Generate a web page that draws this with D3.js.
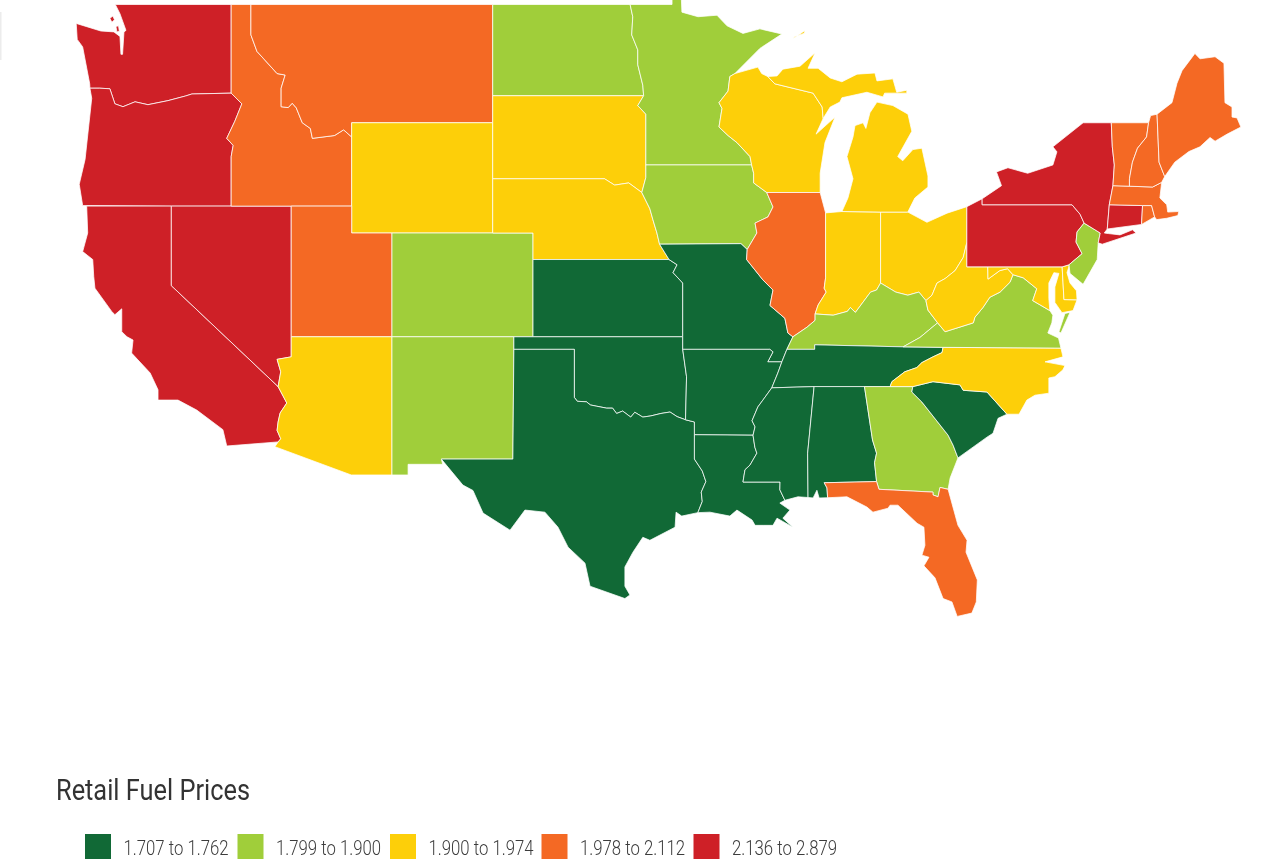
<!DOCTYPE html>
<html><head><meta charset="utf-8">
<script src="https://cdn.jsdelivr.net/npm/d3@7/dist/d3.min.js"></script>
<style>html,body{margin:0;padding:0;background:#fff;overflow:hidden}svg{display:block;filter:blur(0.45px)}</style>
</head><body><svg id="c" width="1285" height="863"></svg>
<script>
// ---------- data ----------
const legendTitle = "Retail Fuel Prices";
const binLabels = ["1.707 to 1.762","1.799 to 1.900","1.900 to 1.974","1.978 to 2.112","2.136 to 2.879"];
const binColors = ["#116936","#a0ce3a","#fdcf09","#f46924","#ce2027"];
const bin1 = ["KS","MO","OK","TX","AR","LA","MS","AL","TN","SC"];
const bin2 = ["ND","MN","IA","CO","NM","KY","VA","GA","NJ"];
const bin3 = ["WY","SD","NE","AZ","WI","MI","IN","OH","WV","MD","DE","NC"];
const bin4 = ["MT","ID","UT","IL","FL","ME","NH","VT","MA","RI"];
const bin5 = ["WA","OR","CA","NV","NY","PA","CT"];
const binStates = [bin1,bin2,bin3,bin4,bin5];

// ---------- shared state borders, [lon, lat] ----------
const rev = a => a.slice().reverse();
const waOr = [[-117.03,46.03],[-118.98,46],[-119.3,45.93],[-120.17,45.77],[-121.16,45.63],[-121.8,45.73],[-122.4,45.56],[-122.8,45.66],[-123.05,46.18],[-123.55,46.2],[-124.04,46.2]];
const orId = [[-117.03,46.03],[-116.5,45.66],[-116.85,45.05],[-117.25,44.45],[-116.93,44.2],[-117.03,43.8],[-117.03,42]];
const idMt = [[-116.05,49],[-116.05,48],[-115.75,47.45],[-114.75,46.7],[-114.35,46.65],[-114.55,46.2],[-114.55,45.56],[-114.2,45.53],[-114,45.68],[-113.8,45.52],[-113.5,45],[-113.1,44.8],[-113,44.45],[-111.9,44.55],[-111.45,44.75],[-111.05,44.5]];
const caAz = [[-114.7,32.72],[-114.57,32.85],[-114.75,33.2],[-114.7,33.55],[-114.6,33.92],[-114.27,34.33],[-114.7,35]];
const nvAz = [[-114.7,35],[-114.57,35.6],[-114.75,36.1],[-114.05,36.2],[-114.05,37]];
const ndMn = [[-97.23,49],[-97.1,48.6],[-97.15,48],[-96.85,47.5],[-96.85,47],[-96.6,46.3],[-96.56,45.94]];
const sdMn = [[-96.56,45.94],[-96.85,45.6],[-96.45,45.3],[-96.45,43.5]];
const sdIa = [[-96.45,43.5],[-96.45,43.05],[-96.65,42.5]];
const sdNe = [[-96.65,42.5],[-97.3,42.85],[-98,42.77],[-98.5,43],[-104.05,43]];
const neIa = [[-96.65,42.5],[-96.25,41.9],[-96.1,41.5],[-95.9,41],[-95.77,40.58]];
const neMo = [[-95.77,40.58],[-95.3,40]];
const moKs = [[-95.3,40],[-94.9,39.8],[-95.1,39.5],[-94.62,39.1],[-94.62,37]];
const moIa = [[-91.42,40.38],[-91.73,40.6],[-95.77,40.58]];
const moIl = [[-91.42,40.38],[-91.45,40],[-90.64,39.22],[-90.14,38.83],[-90.29,38.23],[-89.55,37.73],[-89.4,37.15],[-89.15,37]];
const mnWi = [[-92.03,46.7],[-92.28,46.6],[-92.37,46.1],[-92.82,45.7],[-92.67,45.5],[-92.82,44.85],[-92.37,44.55],[-91.93,44.3],[-91.28,43.8],[-91.2,43.5]];
const iaWi = [[-91.2,43.5],[-91.1,43.2],[-91.1,42.85],[-90.45,42.5]];
const iaIl = [[-90.45,42.5],[-90.14,41.97],[-90.39,41.6],[-91.03,41.37],[-90.94,41],[-91.42,40.38]];
const okAr = [[-94.62,36.5],[-94.43,35.4],[-94.48,33.64]];
const redRiver = [[-100,34.56],[-99.85,34.4],[-99.4,34.38],[-99.2,34.25],[-98.9,34.2],[-98.4,34.12],[-98.1,34.12],[-97.9,33.9],[-97.6,34],[-97.2,33.75],[-97,33.95],[-96.6,33.75],[-96.2,33.8],[-95.7,33.9],[-95.25,33.96],[-94.9,33.77],[-94.48,33.64]];
const txAr = [[-94.48,33.64],[-94.04,33.55],[-94.04,33.02]];
const txLa = [[-94.04,33.02],[-94.04,32],[-93.65,31.5],[-93.47,31.05],[-93.7,30.6],[-93.65,30.2],[-93.87,29.72]];
const arLa = [[-94.04,33.02],[-91.13,33]];
const arRiver = [[-89.7,36],[-89.9,35.55],[-90.2,34.95],[-90.64,34.45],[-90.89,34.17],[-91.18,33.6],[-91.03,33.35],[-91.13,33]];
const msLa = [[-91.13,33],[-91.04,32.5],[-90.94,32.25],[-91.28,31.75],[-91.53,31.55],[-91.63,31.03],[-89.79,31.03],[-89.8,30.7],[-89.55,30.25]];
const tnTop = [[-89.45,36.5],[-88.07,36.5],[-88.07,36.68],[-83.68,36.6]];
const tnNc = [[-81.7,36.58],[-81.75,36.37],[-82.2,36.2],[-82.75,35.97],[-83,35.77],[-83.6,35.6],[-84.24,35.2],[-84.33,35]];
const scNc = [[-83.2,35],[-82.2,35.2],[-80.86,35.07],[-80.7,34.85],[-79.52,34.78],[-78.53,33.87]];
const gaSc = [[-83.2,35],[-83.25,34.78],[-82.75,34.37],[-81.45,33],[-81.2,32.58],[-80.96,32.05]];
const gaFl = [[-81.45,30.72],[-81.85,30.8],[-81.95,30.4],[-82.2,30.48],[-82.2,30.6],[-84.88,30.72],[-85,31.05]];
const alGa = [[-85.6,35],[-85.2,32.8],[-85,32.25],[-85.1,31.85],[-85,31.05]];
const alMs = [[-88.1,35],[-88.42,32.25],[-88.4,30.37]];
const ilKy = [[-89.15,37],[-88.45,37.38],[-88.05,37.65],[-88.05,37.9]];
const inKy = [[-88.05,37.9],[-87.15,37.85],[-86.45,38],[-86.3,38.15],[-86.05,37.96],[-85.3,38.75],[-85,38.83],[-84.8,39.1]];
const ohKy = [[-84.8,39.1],[-84.05,38.75],[-83.45,38.63],[-82.9,38.75],[-82.55,38.42]];
const wvKy = [[-82.55,38.42],[-82.45,38.05],[-81.97,37.55]];
const kyVa = [[-81.97,37.55],[-82.85,36.97],[-83.68,36.6]];
const wvOh = [[-80.52,40.64],[-80.7,40.08],[-81.1,39.58],[-81.6,39.27],[-82,39.1],[-82.25,38.63],[-82.55,38.42]];
const wvMd = [[-79.48,39.72],[-79.47,39.25],[-78.88,39.58],[-78.5,39.65],[-78.23,39.42]];
const vaWv = [[-78.23,39.42],[-78.38,39.13],[-78.87,38.75],[-79.38,38.55],[-79.72,38.15],[-80.12,37.77],[-80.2,37.55],[-81.6,37.2],[-81.97,37.55]];
const vaMd = [[-78.23,39.42],[-77.72,39.3],[-77.05,38.88],[-77.25,38.42],[-76.4,38.03]];
const paNj = [[-74.7,41.37],[-75.05,41.04],[-75.1,40.66],[-74.8,40.22],[-75.45,39.8]];
const vtNh = [[-71.5,45],[-71.6,44.5],[-72.05,44.1],[-72.3,43.6],[-72.45,43],[-72.45,42.73]];
const nhMa = [[-72.45,42.73],[-71.3,42.7],[-70.85,42.87]];
const meNh = [[-71.08,45.3],[-70.98,43.6],[-70.7,43.08],[-70.85,42.87]];
const nyVt = [[-73.35,45],[-73.3,44.15],[-73.2,43.5],[-73.27,42.75]];
const ctMa = [[-73.45,42.05],[-71.8,42.02]];
const coastCa = [[-124.2,42],[-124.15,41],[-124.4,40.3],[-123.9,40],[-123.85,39.35],[-123.79,38.9],[-122.96,38],[-122.8,37.87],[-122.46,38.1],[-122.46,37.2],[-122.2,37],[-121.9,36.87],[-121.97,36.35],[-121.05,35.55],[-120.66,34.87],[-120.66,34.45],[-119.67,34.45],[-118.74,34.04],[-117.44,33.23],[-117.25,32.55]];
const coastTx = [[-93.87,29.72],[-94.67,29.57],[-94.95,29.74],[-95,29.09],[-96.25,28.52],[-96.6,28.65],[-97.09,28],[-97.49,27.35],[-97.49,26.5],[-97.24,26.11],[-97.49,25.95],[-99.22,26.5],[-99.47,27.52],[-100.31,28.22],[-100.81,29.09],[-101.46,29.74],[-102.45,29.83],[-103.19,28.96],[-104.53,29.7],[-105.03,30.67],[-105.53,30.9],[-106.6,32]];
const coastLa = [[-93.87,29.72],[-93.27,29.74],[-92.28,29.57],[-91.93,29.83],[-91.18,29.4],[-91.03,29.17],[-90.63,29.17],[-90.14,29.17],[-89.94,29.48],[-89.15,29.09],[-89.65,29.48],[-89.3,29.83],[-89.8,30.13],[-89.55,30.25]];
const coastFl = [[-81.45,30.72],[-80.96,29.17],[-80.51,28.52],[-80.56,28],[-80,26.78],[-80.05,25.8],[-80.27,25.3],[-81,25.15],[-81.26,25.8],[-81.7,25.95],[-82.1,26.87],[-82.65,27.4],[-82.4,27.78],[-82.75,27.87],[-82.6,28.3],[-82.65,29.09],[-82.99,29.26],[-83.94,30.04],[-84.33,30.04],[-84.43,29.91],[-85.18,29.74],[-85.48,29.96],[-86.47,30.4],[-87.43,30.36],[-87.46,30.78],[-87.6,31]];
const coastMe = [[-71.08,45.3],[-70.34,45.7],[-70.09,46.37],[-69.84,46.8],[-69.2,47.38],[-68.95,47.2],[-68.2,47.27],[-67.76,47.05],[-67.71,45.7],[-67.36,45.55],[-67.36,45.2],[-67.11,45.17],[-66.92,44.85],[-67.6,44.6],[-68.2,44.35],[-68.45,44.48],[-68.95,44.15],[-69.5,43.98],[-70.2,43.6],[-70.7,43.08]];
const lakeWi = [[-90.4,46.6],[-90.05,46.35],[-88.15,46.03],[-87.7,45.55],[-87.65,45.15]];
const coastUp = [[-90.4,46.6],[-89.94,46.62],[-89.65,46.85],[-88.8,46.95],[-88.05,47.4],[-88.4,46.88],[-87.9,46.88],[-87.3,46.55],[-86.72,46.42],[-85.97,46.68],[-85.08,46.72],[-84.98,46.45],[-84.19,46.52],[-84,46.06],[-83.5,46.13],[-83.5,46.03],[-84.6,46.03],[-84.68,45.9],[-85.48,46.06],[-86.72,45.87],[-86.82,45.72],[-87.3,45.55],[-87.65,45.15]];

const shapes = {
 WA:[[[-122.78,49],[-117.03,49],...waOr,[-124.05,46.35],[-124.4,47.6],[-124.67,47.85],[-124.72,48.38],[-123.5,48.13],[-122.85,48.1],[-122.55,47.95],[-122.5,47.35],[-122.42,47.35],[-122.35,48.1],[-122.25,48.15],[-122.55,48.7]],
     [[-123.05,48.55],[-122.9,48.62],[-122.82,48.5],[-122.95,48.42]],
     [[-122.75,48.28],[-122.62,48.3],[-122.58,48.12],[-122.7,48.1]]],
 OR:[[...waOr,[-123.95,45.85],[-124.28,43.7],[-124.57,42.8],[-124.4,42.02],[-120,42],...rev(orId)]],
 CA:[[...coastCa,...caAz,[-120,39],[-120,42]]],
 NV:[[[-120,42],[-114.05,42],...rev(nvAz),[-120,39]]],
 ID:[[[-117.03,49],...idMt,[-111.05,42],...rev(orId)]],
 MT:[[...idMt,[-111.05,45],[-104.05,45],[-104.05,49]]],
 WY:[[[-111.05,45],[-104.05,45],[-104.05,41],[-111.05,41]]],
 UT:[[[-114.05,42],[-111.05,42],[-111.05,41],[-109.05,41],[-109.05,37],[-114.05,37]]],
 CO:[[[-109.05,41],[-102.05,41],[-102.05,37],[-109.05,37]]],
 AZ:[[...nvAz,[-109.05,37],[-109.05,31.33],[-111.07,31.33],[-114.86,32.52],...caAz.slice(0,-1)]],
 NM:[[[-109.05,37],[-103,37],[-103,36.5],[-103.05,32],[-106.6,32],[-106.53,31.78],[-108.25,31.78],[-108.25,31.33],[-109.05,31.33]]],
 ND:[[[-104.05,49],...ndMn,[-104.05,45.94]]],
 SD:[[[-104.05,45.94],...sdMn,...sdIa,...sdNe]],
 NE:[[...rev(sdNe),...neIa,...neMo,[-102.05,40],[-102.05,41],[-104.05,41]]],
 KS:[[[-102.05,40],...moKs,[-102.05,37]]],
 OK:[[[-103,37],[-94.62,37],...okAr,...rev(redRiver),[-100,36.5],[-103,36.5]]],
 TX:[[[-103,36.5],[-100,36.5],...redRiver,...txAr,...txLa,...coastTx,[-103.05,32]]],
 MN:[[...ndMn,...sdMn,[-91.2,43.5],...rev(mnWi),[-90.79,47.55],[-89.7,48.03],[-90.79,48.2],[-91.63,48.05],[-92.42,48.3],[-92.92,48.65],[-93.86,48.6],[-94.66,48.75],[-94.7,49.38],[-95.15,49.38],[-95.15,49]]],
 IA:[[...sdIa,...neIa,...rev(moIa),...rev(iaIl),...rev(iaWi)]],
 MO:[[...neMo,...moKs,[-94.62,36.5],[-90.3,36.5],[-90.14,36.4],[-90.4,36],[-89.7,36],[-89.45,36.5],...rev(moIl),[-91.73,40.6]]],
 AR:[[[-94.62,36.5],[-90.3,36.5],[-90.14,36.4],[-90.4,36],...arRiver,...rev(arLa),[-94.04,33.55],[-94.48,33.64],[-94.43,35.4]]],
 LA:[[...arLa,...msLa,...rev(coastLa),...rev(txLa).slice(0,-1)]],
 WI:[[...mnWi,...iaWi,[-87.8,42.5],[-87.8,43.2],[-87.56,44.3],[-87.06,45.2],[-88,44.6],...rev(lakeWi),[-90.7,46.7],[-90.89,46.92]]],
 IL:[[[-90.45,42.5],[-87.8,42.5],[-87.53,41.75],[-87.53,39.3],[-87.6,38.9],[-87.5,38.75],[-87.9,38.25],...rev(ilKy),...rev(moIl),...rev(iaIl).slice(1)]],
 IN:[[[-87.53,41.75],[-86.72,41.8],[-84.8,41.78],...rev(inKy),[-87.9,38.25],[-87.5,38.75],[-87.6,38.9],[-87.53,39.3]]],
 OH:[[[-84.8,41.78],[-83.45,41.78],[-82.5,41.4],[-81.5,41.74],[-80.52,41.98],...wvOh,...rev(ohKy)]],
 KY:[[...ilKy,...inKy,...ohKy,...wvKy,...kyVa,[-88.07,36.68],[-88.07,36.5],[-89.45,36.5]]],
 TN:[[...tnTop,...tnNc,[-85.6,35],[-88.1,35],[-90.2,34.95],[-89.9,35.55],[-89.7,36]]],
 MS:[[[-90.2,34.95],...alMs,[-88.9,30.4],...rev(msLa),...rev(arRiver).slice(1,-2)]],
 AL:[[...alGa,[-87.6,31],[-87.46,30.78],[-87.43,30.36],[-87.85,30.35],[-87.96,30.68],[-88.15,30.35],[-88.4,30.37],...rev(alMs)]],
 GA:[[[-85.6,35],[-84.33,35],...gaSc,[-81.35,31.2],...gaFl,...rev(alGa)]],
 FL:[[...coastFl,[-85,31.05],...rev(gaFl)]],
 SC:[[...scNc,[-78.97,33.7],[-79.22,33.08],[-79.52,32.92],...rev(gaSc)]],
 NC:[[[-81.7,36.58],[-75.85,36.55],[-75.75,36.2],[-76.64,36],[-75.65,35.85],[-75.75,35.68],[-76.15,35.4],[-76.45,35.35],[-76.45,34.73],[-77.14,34.65],[-77.54,34.45],[-77.93,33.87],...rev(scNc),...rev(tnNc)]],
 VA:[[...vaMd,[-76.25,37.85],[-76.3,37.55],[-76.5,37.15],[-75.97,36.95],[-75.85,36.55],[-81.7,36.58],[-83.68,36.6],...rev(kyVa),...rev(vaWv)],
     [[-75.65,37.92],[-75.4,37.96],[-75.85,37.15],[-75.95,37.2]]],
 WV:[[[-80.52,40.64],[-80.52,39.72],...wvMd,...vaWv,...rev(wvKy),...rev(wvOh)]],
 MD:[[[-79.48,39.72],[-75.79,39.72],[-75.7,38.46],[-75.05,38.45],[-75.25,38.03],[-75.8,37.95],[-76.15,38.35],[-76.15,38.95],[-75.95,39.47],[-76.2,39.5],[-76.45,39.1],[-76.45,38.5],...rev(vaMd),...rev(wvMd)]],
 DE:[[[-75.79,39.72],[-75.42,39.8],[-75.55,39.5],[-75.4,39.1],[-75.08,38.8],[-75.05,38.45],[-75.7,38.46]]],
 PA:[[[-80.52,41.98],[-79.76,42.27],[-79.76,42.05],[-75.3,42.05],[-74.9,41.7],[-74.7,41.37],...paNj.slice(1),[-75.79,39.72],[-80.52,39.72]]],
 NJ:[[[-74.7,41.37],[-73.9,41],[-74,40.63],[-74.05,40],[-74.75,39.05],[-75.4,39.47],...rev(paNj).slice(0,-1)]],
 NY:[[[-79.76,42.05],[-79.76,42.27],[-78.8,42.75],[-79.05,43.25],[-78.48,43.4],[-77.5,43.2],[-76.25,43.5],[-76.05,43.97],[-76.25,44.15],[-74.75,45],...nyVt,[-73.45,42.05],[-73.55,41.15],[-73.7,41],[-73.5,40.98],[-72.92,40.93],[-72.3,41.12],[-72.12,41],[-73.8,40.58],[-74,40.63],[-73.9,41],[-74.7,41.37],[-74.9,41.7],[-75.3,42.05]]],
 CT:[[...ctMa,[-71.85,41.32],[-73.55,41.15]]],
 RI:[[[-71.8,42.02],[-71.35,42.02],[-71.2,41.6],[-71.85,41.32]]],
 MA:[[[-73.27,42.75],...nhMa,[-70.94,42.3],[-70.6,42.05],[-70.55,41.78],[-70,41.8],[-70.05,41.65],[-70.6,41.55],[-71.1,41.5],[-71.2,41.6],[-71.35,42.02],[-71.8,42.02],[-73.45,42.05]]],
 VT:[[[-73.35,45],...vtNh,[-73.27,42.75],...rev(nyVt).slice(1,-1)]],
 NH:[[...vtNh,...nhMa.slice(1),...rev(meNh).slice(1),[-71.4,45.25]]],
 ME:[[...coastMe,...rev(meNh).slice(2)]],
 MI:[[...coastUp,...rev(lakeWi).slice(1)],
     [[-84.98,45.72],[-84.19,45.6],[-83.44,45.3],[-83.25,44.7],[-83.95,43.8],[-83.7,43.65],[-83.2,44.05],[-82.75,44.1],[-82.45,43.1],[-82.45,42.7],[-83.1,42.3],[-83.45,41.78],[-84.8,41.78],[-86.72,41.8],[-86.42,42.3],[-86.17,43],[-86.47,43.8],[-86.17,44.5],[-86.07,44.9],[-85.67,45],[-85.53,44.8],[-85.33,45.35]],
     [[-89.15,47.87],[-88.55,48.15],[-88.6,48.05],[-89.05,47.95]]]
};

// ---------- drawing ----------
const stateBin = new Map(binStates.flatMap((list,i)=>list.map(s=>[s,binLabels[i]])));
const color = d3.scaleOrdinal().domain(binLabels).range(binColors);
const features = Object.keys(shapes).map(id=>({type:"Feature",id,geometry:{type:"MultiPolygon",
  coordinates:shapes[id].map(r=>[[...r,r[0]]])}}));

const mercator = d3.geoMercator().scale(1154.5).translate([2589.3,1140.3]);
const planar = d3.geoTransform({point(lon,lat){const p=mercator([lon,lat]);this.stream.point(p[0],p[1]);}});
const path = d3.geoPath(planar);

const svg = d3.select("#c");
svg.append("line").attr("x1",0).attr("x2",0).attr("y1",12).attr("y2",60).attr("stroke","#ececec").attr("stroke-width",3);
svg.append("g").selectAll("path").data(features).join("path")
  .attr("d",path)
  .attr("fill",d=>color(stateBin.get(d.id)))
  .attr("stroke","#fff").attr("stroke-opacity",.75).attr("stroke-width",1).attr("stroke-linejoin","round");

const fontStack = "Roboto,'Liberation Sans',sans-serif";
svg.append("text").text(legendTitle).attr("x",56).attr("y",800)
  .attr("font-family",fontStack).attr("font-weight",400)
  .attr("font-size",30).attr("fill","#333")
  .attr("textLength",194).attr("lengthAdjust","spacingAndGlyphs");

const swatchX = d3.scaleOrdinal().domain(binLabels).range([85,237.5,390,541.5,693.5]);
const lg = svg.append("g").selectAll("g").data(binLabels).join("g").attr("transform",d=>`translate(${swatchX(d)},834)`);
lg.append("rect").attr("width",26).attr("height",25).attr("fill",d=>color(d));
lg.append("text").text(d=>d).attr("x",38.5).attr("y",21)
  .attr("font-family",fontStack).attr("font-weight",300)
  .attr("font-size",20.5).attr("fill","#3c3c3c")
  .attr("textLength",105).attr("lengthAdjust","spacingAndGlyphs");
</script></body></html>
